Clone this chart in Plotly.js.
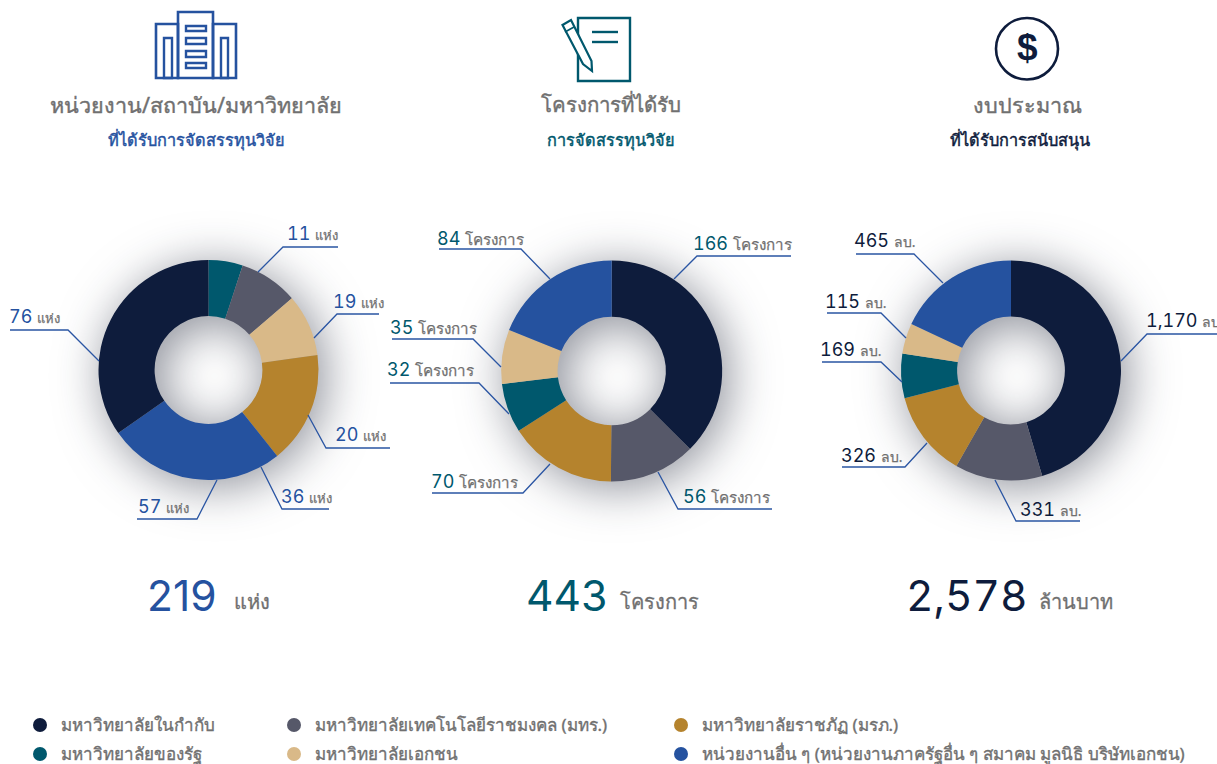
<!DOCTYPE html>
<html><head><meta charset="utf-8">
<script src="https://cdn.plot.ly/plotly-3.0.1.min.js"></script>
<style>
html,body{margin:0;padding:0;background:#fff;overflow:hidden}
#chart{width:1217px;height:764px}
.pielayer{filter:drop-shadow(6px 6px 24px rgba(20,25,45,.5))}
.annotation-text{font-feature-settings:"tnum"}
</style></head><body><div id="chart"></div>
<script>
// ---- data ----
const categories = ['มหาวิทยาลัยในกำกับ','มหาวิทยาลัยเทคโนโลยีราชมงคล (มทร.)','มหาวิทยาลัยราชภัฏ (มรภ.)','มหาวิทยาลัยของรัฐ','มหาวิทยาลัยเอกชน','หน่วยงานอื่น ๆ (หน่วยงานภาครัฐอื่น ๆ สมาคม มูลนิธิ บริษัทเอกชน)'];
const seriesColors = ['#0e1c3c','#565869','#b5832d','#00586d','#d9b988','#25529f'];
const orderA = [3,1,4,2,5,0];
const valuesA = [11,19,20,36,57,76];
const valuesB = [166,56,70,32,35,84];
const valuesC = [1170,331,326,169,115,465];
const labelsA = ['11','19','20','36','57','76'];
const labelsB = ['166','56','70','32','35','84'];
const labelsC = ['1,170','331','326','169','115','465'];
const unitA = 'แห่ง', unitB = 'โครงการ', unitC = 'ลบ.';
const headsTop = ['หน่วยงาน/สถาบัน/มหาวิทยาลัย','โครงการที่ได้รับ','งบประมาณ'];
const headsSub = ['ที่ได้รับการจัดสรรทุนวิจัย','การจัดสรรทุนวิจัย','ที่ได้รับการสนับสนุน'];
const totals = ['219','443','2,578'];
const totalUnits = ['แห่ง','โครงการ','ล้านบาท'];

// ---- layout constants ----
const W=1217,H=764;
const TH='"Noto Sans","Liberation Sans",sans-serif';
const NUM='Inter,"Liberation Sans",Arial,sans-serif';
const GREY='#707070', LINE='#2a55a3';
const fx=p=>p/W, fy=p=>1-p/H;
const dom=(cx,cy,r)=>({x:[fx(cx-r),fx(cx+r)],y:[fy(cy+r),fy(cy-r)]});
const heavy=(t,c,w)=>'<span style="stroke:'+c+';stroke-width:'+w+'px">'+t+'</span>';
const pies=[
 {cx:208.5,cy:370,r:110,vals:valuesA,cols:orderA.map(i=>seriesColors[i]),names:orderA.map(i=>categories[i]),lab:labelsA,unit:unitA,numC:'#25529f',size:13,
  leaders:[[[258,272],[283,247],[338,247]],[[314,338],[337,314],[379,314]],[[308,415],[326,448],[390,448]],[[261,467],[282,509],[329,509]],[[217,480],[197,519],[137,519]],[[99,361],[68,330],[10,330]]],
  text:[[287,233],[333,301],[335,435],[281,497],[138,506],[9,316]]},
 {cx:611.7,cy:371,r:110.5,vals:valuesB,cols:[0,1,2,3,4,5].map(i=>seriesColors[i]),names:categories,lab:labelsB,unit:unitB,numC:'#00586d',size:15.2,
  leaders:[[[674,279],[697,256],[791,256]],[[658,472],[678,509],[772,509]],[[550,464],[523,493],[432,493]],[[509,414],[479,383],[390,383]],[[501,367],[473,339],[392,339]],[[550,279],[521,249],[439,249]]],
  text:[[693,243],[683,497],[431,481],[387,370],[390,327],[437,238]]},
 {cx:1011,cy:370.5,r:110,vals:valuesC,cols:seriesColors,names:categories,lab:labelsC,unit:unitC,numC:'#0e1c3c',size:14,
  leaders:[[[1121,361],[1147,334],[1217,334]],[[995,480],[1016,521],[1080,521]],[[927,443],[905,467],[842,467]],[[902,382],[881,362],[822,362]],[[906,338],[881,313],[827,313]],[[943,283],[914,254],[856,254]]],
  text:[[1146,320],[1020,509],[841,455],[820,349],[825,301],[854,241]]}
];
const traces=pies.map(p=>({type:'pie',labels:p.names,values:p.vals,domain:dom(p.cx,p.cy,p.r),hole:0.49,sort:false,direction:'clockwise',rotation:0,
  marker:{colors:p.cols,line:{width:0}},textinfo:'none',hoverinfo:'label+value',showlegend:false}));

const shapes=[],ann=[];
const pathOf=(pts,close)=>'M'+pts.map(q=>fx(q[0])+','+fy(q[1])).join('L')+(close?'Z':'');
const poly=(pts,color,w,fill,close)=>shapes.push({type:'path',xref:'paper',yref:'paper',path:pathOf(pts,close),line:{color,width:w},fillcolor:fill||'rgba(0,0,0,0)'});
const rect=(a,b,c,d,color,w,fill)=>poly([[a,b],[c,b],[c,d],[a,d]],color,w,fill,true);
const text=(t,x,y,size,color,anchor,fam)=>ann.push({xref:'paper',yref:'paper',x:fx(x),y:fy(y),text:t,showarrow:false,xanchor:anchor||'left',yanchor:'middle',borderpad:0,borderwidth:0,font:{size,color,family:fam||TH}});

// leaders + labels
pies.forEach(p=>{
  p.leaders.forEach(l=>poly(l,LINE,1.3));
  p.text.forEach((t,i)=>text('<span style="color:'+p.numC+';font-family:'+NUM.replace(/"/g,"'")+';font-size:18px">'+p.lab[i]+' </span>'+heavy(p.unit,GREY,.25),t[0],t[1],p.size,GREY));
});

// headings
const headX=[196,611,1027], subX=[196,611,1020], headC=['#25529f','#00586d','#0e1c3c'], headSize=[21.6,20.4,21.6];
headsTop.forEach((t,i)=>{text(heavy(t,GREY,.4),headX[i],104,headSize[i],GREY,'center');text(heavy(headsSub[i],headC[i],.45),subX[i],140,16.3,headC[i],'center');});

// totals
const totX=[147,526,906], unitX=[234,620,1039];
totals.forEach((t,i)=>{
  const shown=t.includes('1')?'<span style="font-feature-settings:normal">'+t+'</span>':t;
  text(shown,totX[i],595,42.5,headC[i],'left',NUM);
  text(heavy(totalUnits[i],GREY,.3),unitX[i],601,20,GREY,'left');
});

// legend
const legX=[40,294,681], legY=[725,754];
categories.forEach((c,i)=>{
  const x=legX[i%3],y=legY[Math.floor(i/3)];
  shapes.push({type:'circle',xref:'paper',yref:'paper',x0:fx(x-7),x1:fx(x+7),y0:fy(y+7),y1:fy(y-7),fillcolor:seriesColors[i],line:{width:0}});
  text(heavy(c,GREY,.35),x+21,y-1,17,GREY,'left');
});

// icon: building
const B='#25529f';
rect(156,24,178,78,B,2.6);rect(213,24,236,78,B,2.6);rect(178,12,213,78,B,2.6);
[[26,31],[38,44],[51,57],[63,68]].forEach(r=>rect(186,r[0],206,r[1],B,2.4));
rect(164,38,172,78,B,2.4);rect(221,38,228,78,B,2.4);
// icon: document + pencil
const T='#00586d';
rect(578,18,630,81,T,2.4);
poly([[592,32],[618,32]],T,2.4);poly([[592,42],[618,42]],T,2.4);
poly([[562.5,25],[571,20],[591.5,61],[592,71],[583,64]],T,2.2,'#fff',true);
poly([[565,32],[574,27]],T,1.6);
// icon: dollar
shapes.push({type:'circle',xref:'paper',yref:'paper',x0:fx(996),x1:fx(1058),y0:fy(79.5),y1:fy(18),line:{color:'#0e1c3c',width:2.6}});
text('<b>$</b>',1027,48,37,'#0e1c3c','center','"Liberation Sans",Arial,sans-serif');

Plotly.newPlot('chart',traces,{width:W,height:H,margin:{l:0,r:0,t:0,b:0},paper_bgcolor:'#fff',plot_bgcolor:'#fff',showlegend:false,shapes,annotations:ann},{displayModeBar:false});
</script></body></html>
